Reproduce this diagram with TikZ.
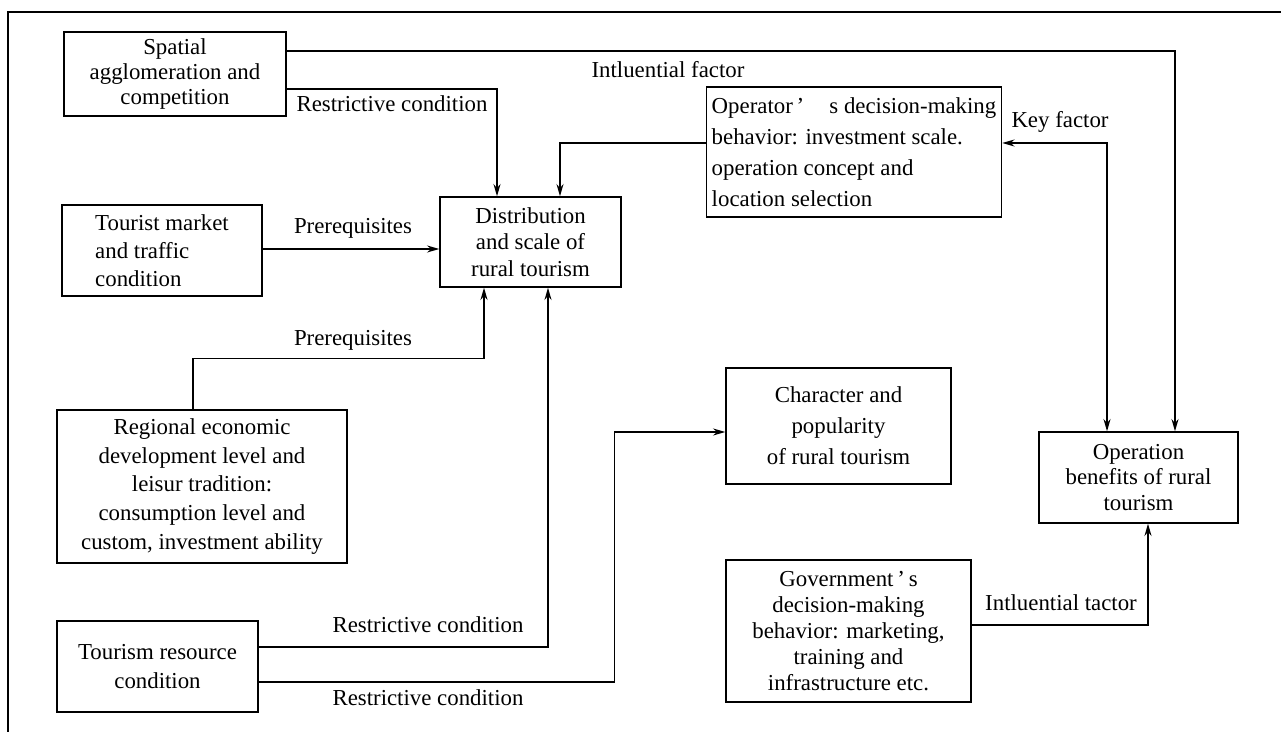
\documentclass[tikz,border=0pt]{standalone}
\usepackage{fontspec}
\setmainfont{Liberation Serif}
\usetikzlibrary{shapes,arrows.meta}
\tikzset{
	box/.style={draw, line width=0.8pt, align=center, inner sep=3pt, font=\fontsize{13}{15}\selectfont},
	lbl/.style={font=\fontsize{13}{15}\selectfont, inner sep=1pt},
	link/.style={line width=0.8pt},
	arr/.style={link, -{Stealth[length=7pt,width=4pt]}},
	arrboth/.style={link, {Stealth[length=7pt,width=4pt]}-{Stealth[length=7pt,width=4pt]}}
}

\begin{document}
\begin{tikzpicture}[x=0.02cm, y=-0.02cm]
		\useasboundingbox (0,0) rectangle (1281,732);
		\draw[line width=0.6pt] (8,732) -- (8,12) -- (1281,12);

		\node[box, minimum width=4.44cm, minimum height=1.68cm, font=\fontsize{13}{14.2}\selectfont] (spa) at (175,74) {Spatial\\agglomeration and\\competition};
		\node[box, minimum width=4.0cm, minimum height=1.82cm, align=left, font=\fontsize{13}{16}\selectfont] (mkt) at (162,250.5) {Tourist market\\and traffic\\condition};
		\node[box, minimum width=3.62cm, minimum height=1.8cm] (dist) at (530.5,242) {Distribution\\and scale of\\rural tourism};
		\node[box, minimum width=5.8cm, minimum height=2.6cm, align=left, font=\fontsize{13}{17.6}\selectfont] (opr) at (854,152) {Operator\,’\hspace{1.1em}s decision-making\\behavior: investment scale.\\operation concept and\\location selection};
		\node[box, minimum width=5.8cm, minimum height=3.06cm, font=\fontsize{13}{16.3}\selectfont] (reg) at (202,486.5) {Regional economic\\development level and\\leisur tradition:\\consumption level and\\custom, investment ability};
		\node[box, minimum width=4.02cm, minimum height=1.82cm, font=\fontsize{13}{17}\selectfont] (res) at (157.5,666.5) {Tourism resource\\condition};
		\node[box, minimum width=4.5cm, minimum height=2.32cm, font=\fontsize{13}{17.6}\selectfont] (chr) at (838.5,426) {Character and\\popularity\\of rural tourism};
		\node[box, minimum width=3.98cm, minimum height=1.82cm, font=\fontsize{13}{14.5}\selectfont] (ben) at (1138.5,477.5) {Operation\\benefits of rural\\tourism};
		\node[box, minimum width=4.9cm, minimum height=2.84cm, font=\fontsize{13}{14.9}\selectfont] (gov) at (848.5,631) {Government\,’\,s\\decision-making\\behavior: marketing,\\training and\\infrastructure etc.};

		\draw[arr] ([yshift=0.46cm]spa.east) -| ([xshift=0.73cm]ben.north);
		\node[lbl] (l1) at (668,70) {Intluential factor};

		\draw[arr] ([yshift=-0.3cm]spa.east) -| ([xshift=-0.67cm]dist.north);
		\node[lbl] (l2) at (392,104) {Restrictive condition};

		\draw[arr] ([yshift=0.18cm]opr.west) -| ([xshift=0.59cm]dist.north);

		\draw[arr] ([yshift=0.03cm]mkt.east) -- ([yshift=0.03cm]mkt.east -| dist.west);
		\node[lbl] (l3) at (353,228) {Prerequisites};

		\draw[arr] ([xshift=-0.18cm]reg.north) -- ++(0,-51) -| ([xshift=-0.93cm]dist.south);
		\node[lbl] (l4) at (353,340) {Prerequisites};

		\draw[arr] ([yshift=0.39cm]res.east) -| ([xshift=0.35cm]dist.south);
		\node[lbl] (l5) at (428,625) {Restrictive condition};

		\draw[arr] ([yshift=-0.31cm]res.east) -- ++(356,0) |- ([yshift=-0.12cm]chr.west);
		\node[lbl] (l6) at (428,698) {Restrictive condition};

		\draw[arrboth] ([yshift=0.18cm]opr.east) -| ([xshift=-0.63cm]ben.north);
		\node[lbl] (l7) at (1060,122) {Key factor};

		\draw[arr] ([yshift=0.12cm]gov.east) -| ([xshift=0.19cm]ben.south);
		\node[lbl] (l8) at (1061,603) {Intluential tactor};
\end{tikzpicture}
\end{document}
